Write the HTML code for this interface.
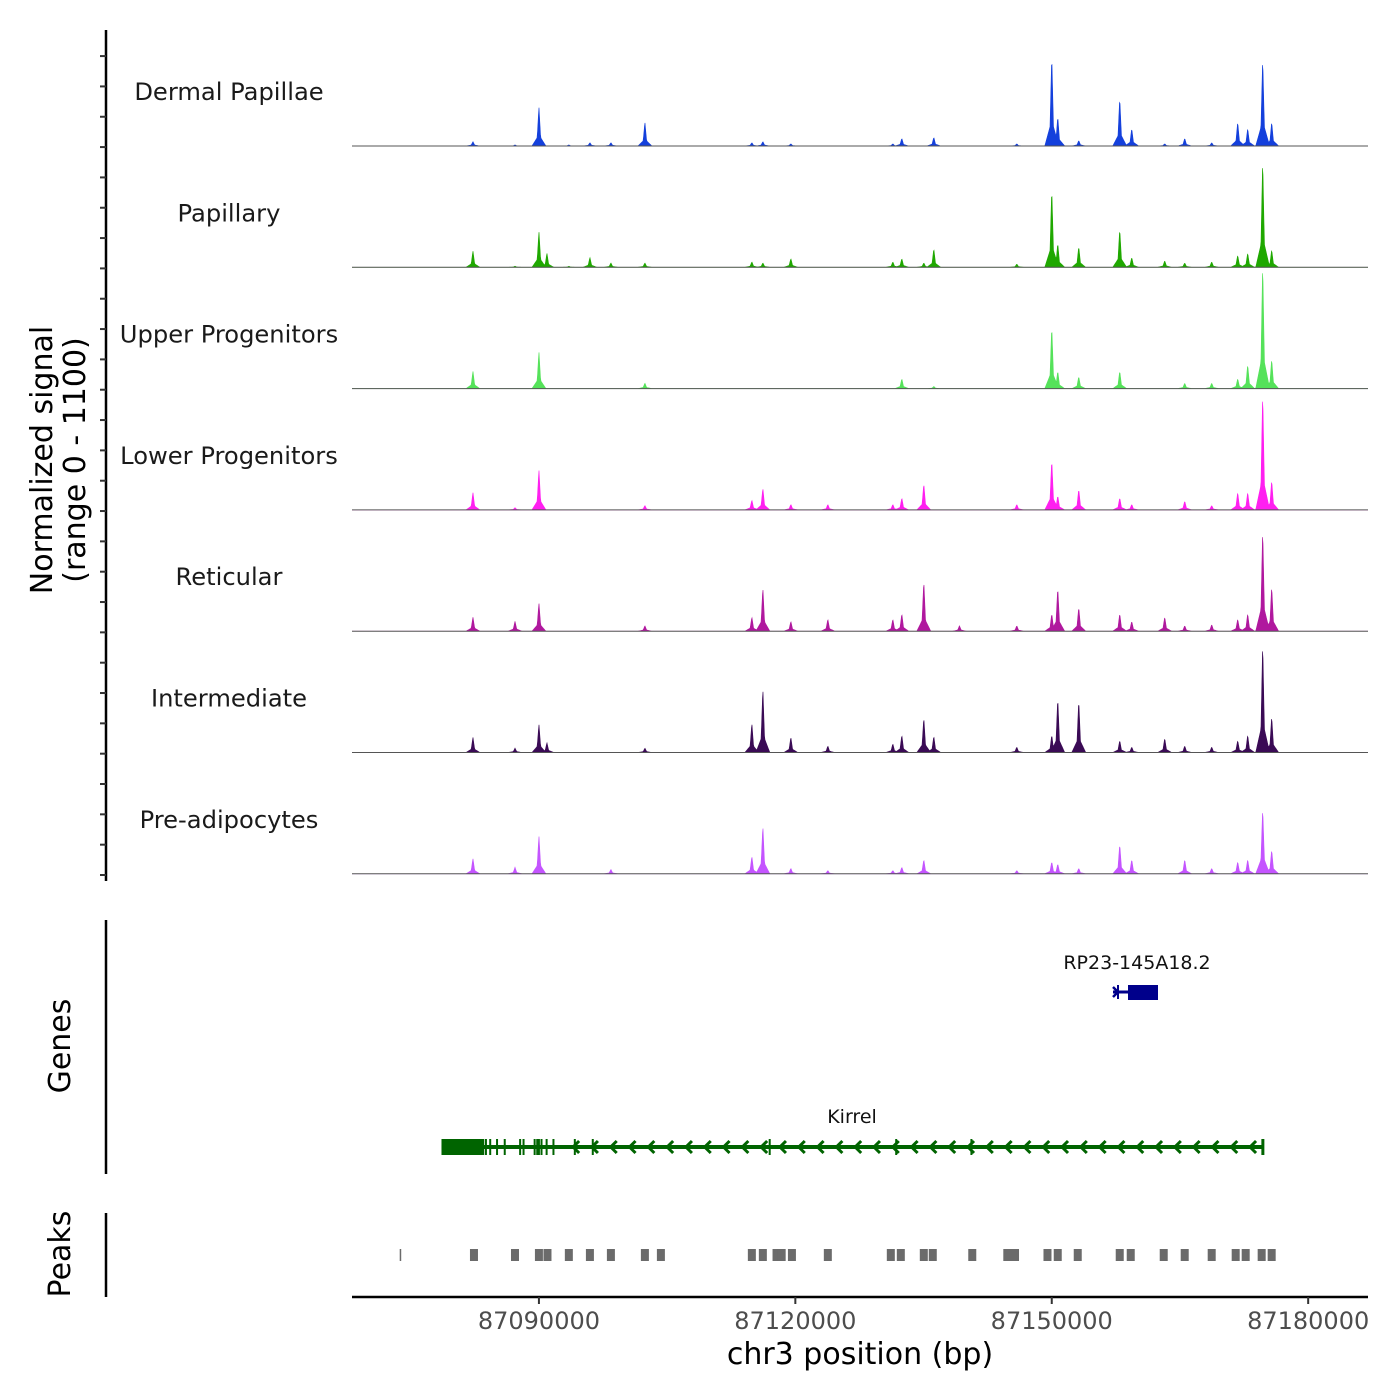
<!DOCTYPE html>
<html><head><meta charset="utf-8">
<style>
body{margin:0;background:#fff;}
svg{display:block;font-family:"DejaVu Sans","Liberation Sans",sans-serif;}
</style></head>
<body>
<svg id="chart" width="1400" height="1400" viewBox="0 0 1400 1400">
</svg>
<script>
// ---- data ----
const trackNames = ["Dermal Papillae","Papillary","Upper Progenitors","Lower Progenitors","Reticular","Intermediate","Pre-adipocytes"];
const trackColors = ["#1440dc","#1fa800","#55e25a","#ff1ff0","#b0189e","#3a0a55","#c454ff"];
const peakPos = [87082280,87087200,87090000,87090936,87093500,87095965,87098421,87102398,87114912,87116199,87119474,87123801,87131404,87132456,87135030,87136199,87139200,87145907,87150000,87150702,87153158,87157953,87159357,87163216,87165556,87168713,87171754,87172924,87174678,87175731];
const sigDermal =   [40,10,360,0,10,30,30,220,30,40,20,0,20,70,0,80,0,20,830,270,50,440,160,20,70,30,220,160,800,220];
const sigPapillary =[150,10,330,130,10,90,40,40,50,40,80,0,50,80,40,170,0,30,720,220,190,350,90,60,40,50,110,130,980,160];
const sigUpper =    [160,0,340,0,0,0,0,50,0,0,0,0,0,90,0,20,0,0,570,160,110,160,0,0,50,50,90,220,1140,270];
const sigLower =    [160,20,370,0,0,0,0,40,90,200,50,50,50,110,240,0,0,50,460,130,190,110,50,0,80,40,160,160,1070,270];
const sigReticular =[130,90,260,0,0,0,0,50,130,400,90,110,110,160,460,0,50,50,160,400,220,160,90,130,50,60,110,160,930,410];
const sigInterm =   [140,40,260,90,0,0,0,40,270,590,140,60,80,160,320,150,0,50,160,500,480,110,50,130,60,50,110,160,1000,330];
const sigPreadipo = [140,60,350,0,0,0,40,0,160,440,50,30,30,60,130,0,0,30,110,90,50,270,130,0,130,50,110,130,600,220];
const trackSignals = [sigDermal,sigPapillary,sigUpper,sigLower,sigReticular,sigInterm,sigPreadipo];
const peakRegions = [87073800,87082400,87087200,87090000,87091000,87093500,87095965,87098421,87102398,87104270,87114912,87116199,87117800,87118400,87119600,87123801,87131170,87132340,87135030,87136080,87140700,87144800,87145700,87149500,87150700,87153040,87157953,87159240,87163100,87165556,87168713,87171520,87172690,87174560,87175730];
const xTicks = [87090000,87120000,87150000,87180000];
const kirrelExons = [87083800,87084300,87085100,87086000,87087800,87088200,87089500,87089800,87090000,87090300,87090900,87091700,87094200,87096300,87117000,87131800,87140600];

// ---- scales ----
const svg = document.getElementById('chart');
const NS = 'http://www.w3.org/2000/svg';
const X0 = 352, X1 = 1368, BP0 = 87068130, BP1 = 87187000;
function xs(bp){ return X0 + (bp-BP0)/(BP1-BP0)*(X1-X0); }
const trackH = 121.3, trackBase0 = 146, YMAX = 1100;
function ys(t, v){ return trackBase0 + t*trackH - Math.min(v,YMAX)/YMAX*trackH; }
function el(tag, attrs, parent){ const e=document.createElementNS(NS,tag); for(const k in attrs) e.setAttribute(k,attrs[k]); (parent||svg).appendChild(e); return e; }

// left axis for signal
el('line',{x1:106,y1:30,x2:106,y2:881,stroke:'#000','stroke-width':2.5});
for(let y=875; y>=50; y-=30.33){
  el('line',{x1:100,y1:y,x2:106,y2:y,stroke:'#333','stroke-width':2});
}
const yt = el('text',{x:0,y:0,'font-size':30,'text-anchor':'middle',transform:'translate(52,460) rotate(-90)'});


const t1 = el('tspan',{x:0,dy:0},yt); t1.textContent='Normalized signal';
const t2 = el('tspan',{x:0,dy:33},yt); t2.textContent='(range 0 - 1100)';

// tracks
for(let t=0;t<trackNames.length;t++){
  const base = ys(t,0);
  const g = el('g',{});
  
  
  const lab = el('text',{x:229,y:base-46,'font-size':24.2,'text-anchor':'middle',fill:'#1a1a1a'},g);
  lab.textContent = trackNames[t];
  
  
  const sig = trackSignals[t];
  const pts = [];
  for(let px=X0; px<=X1; px+=0.5){
    let v = 0;
    for(let i=0;i<peakPos.length;i++){
      const d = Math.abs(px - xs(peakPos[i]));
      const h = sig[i];
      if(h<=0) continue;
      const spike = h*Math.max(0,1-d/2.2);
      const shoulder = h*0.28*Math.max(0,1-d/7);
      v = Math.max(v, spike, shoulder);
    }
    pts.push([px, ys(t,v)]);
  }
  let dpath = 'M'+X0+','+base;
  pts.forEach(p=>{ dpath += ' L'+p[0].toFixed(1)+','+p[1].toFixed(2); });
  dpath += ' L'+X1+','+base+' Z';
  const area = el('path',{d:dpath,fill:trackColors[t],stroke:trackColors[t],'stroke-width':0.6},g);
  
  
  el('line',{x1:X0,y1:base,x2:X1,y2:base,stroke:'#555','stroke-width':1},g);
}

// genes panel
el('line',{x1:106,y1:920,x2:106,y2:1174,stroke:'#000','stroke-width':2.5});
const gt = el('text',{x:0,y:0,'font-size':30,'text-anchor':'middle',transform:'translate(70,1046) rotate(-90)'});


gt.textContent='Genes';

const kg = el('g',{});


const kx0 = xs(87078600), kx1 = xs(87174700);
el('line',{x1:kx0,y1:1147,x2:kx1,y2:1147,stroke:'#006400','stroke-width':4},kg);
el('rect',{x:kx0,y:1139,width:xs(87083600)-kx0,height:16,fill:'#006400'},kg);
kirrelExons.forEach(b=>{ el('line',{x1:xs(b),y1:1139,x2:xs(b),y2:1155,stroke:'#006400','stroke-width':2},kg); });
el('line',{x1:kx1,y1:1139,x2:kx1,y2:1155,stroke:'#006400','stroke-width':3},kg);
for(let bp=87094000; bp<87174000; bp+=2200){
  const x = xs(bp);
  el('path',{d:`M${x+6},${1141} L${x},${1147} L${x+6},${1153}`,fill:'none',stroke:'#006400','stroke-width':3},kg);
}
const kl = el('text',{x:852,y:1123,'font-size':19,'text-anchor':'middle',fill:'#111'},kg);
kl.textContent='Kirrel';

const rg = el('g',{});


el('line',{x1:1113,y1:992,x2:1158,y2:992,stroke:'#00008b','stroke-width':3},rg);
el('line',{x1:1118,y1:985,x2:1118,y2:999,stroke:'#00008b','stroke-width':2},rg);
el('path',{d:'M1113,987 L1118,992 L1113,997',fill:'none',stroke:'#00008b','stroke-width':2.5},rg);
el('rect',{x:1128,y:985,width:30,height:15,fill:'#00008b'},rg);
const rl = el('text',{x:1137,y:969,'font-size':19,'text-anchor':'middle',fill:'#111'},rg);
rl.textContent='RP23-145A18.2';

// peaks panel
el('line',{x1:106,y1:1213,x2:106,y2:1297,stroke:'#000','stroke-width':2.5});
const pt = el('text',{x:0,y:0,'font-size':30,'text-anchor':'middle',transform:'translate(70,1254) rotate(-90)'});


pt.textContent='Peaks';
peakRegions.forEach((bp,i)=>{
  const w = i===0 ? 1.5 : 8;
  const r = el('rect',{x:xs(bp)-w/2,y:1249,width:w,height:12,fill:'#6b6b6b'});
  
  
});

// x axis
el('line',{x1:X0,y1:1297,x2:X1,y2:1297,stroke:'#000','stroke-width':2.5});
xTicks.forEach(v=>{
  const x = xs(v);
  el('line',{x1:x,y1:1297,x2:x,y2:1304,stroke:'#333','stroke-width':2});
  const tx = el('text',{x:x,y:1329,'font-size':24,'text-anchor':'middle',fill:'#4d4d4d'});
  
  
  tx.textContent = String(v);
});
const xt = el('text',{x:860,y:1364,'font-size':30,'text-anchor':'middle',fill:'#000'});


xt.textContent='chr3 position (bp)';
</script>
</body></html>
